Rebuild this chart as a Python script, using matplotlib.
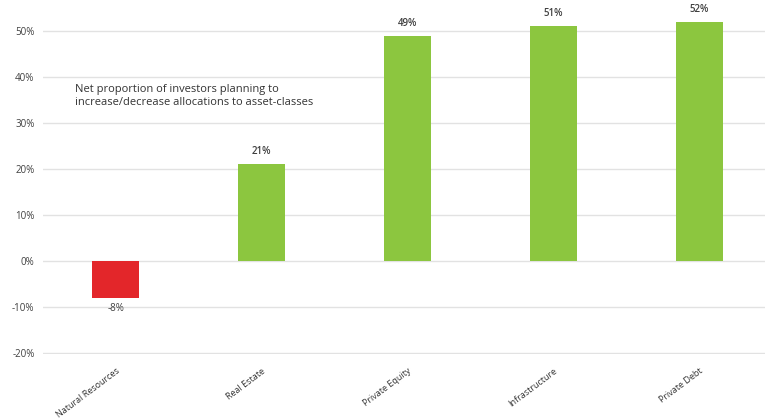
import matplotlib
matplotlib.use("Agg")
import matplotlib.pyplot as plt
from matplotlib.ticker import FuncFormatter

categories = ["Natural Resources", "Real Estate", "Private Equity", "Infrastructure", "Private Debt"]
values = [-8, 21, 49, 51, 52]
y_ticks = [-20, -10, 0, 10, 20, 30, 40, 50]

green = "#8cc63f"
red = "#e3262a"
grey = "#404040"

plt.rcParams["font.family"] = ["Open Sans", "DejaVu Sans"]

fig = plt.figure(figsize=(7.65, 4.19), dpi=100)
ax = fig.add_axes([0.056, 0.155, 0.944, 0.815])

x = list(range(len(categories)))
colors = [red if v < 0 else green for v in values]
ax.bar(x, values, width=0.32, color=colors, zorder=2)

for xi, v in zip(x, values):
    if v < 0:
        ax.text(xi, v - 1.2, f"{v}%", ha="center", va="top", fontsize=7, color=grey)
    else:
        ax.text(xi, v + 1.5, f"{v}%", ha="center", va="bottom", fontsize=7,
                color=grey, fontweight="semibold")

ax.set_ylim(-20.3, 54)
ax.set_xlim(-0.5, 4.45)
ax.set_yticks(y_ticks)
ax.yaxis.set_major_formatter(FuncFormatter(lambda v, p: f"{int(v)}%"))
ax.grid(axis="y", color="#e2e2e2", linewidth=1, zorder=0)
ax.set_axisbelow(True)
for s in ax.spines.values():
    s.set_visible(False)
ax.tick_params(axis="y", length=0, labelsize=7, colors=grey, pad=6)
ax.tick_params(axis="x", length=0, labelsize=6.5, colors="#333333", pad=9)
ax.set_xticks(x)
ax.set_xticklabels(categories, rotation=37, ha="right", rotation_mode="anchor")

ax.text(-0.28, 38.5, "Net proportion of investors planning to\nincrease/decrease allocations to asset-classes",
        ha="left", va="top", fontsize=8, color="#333333", linespacing=1.3)

fig.savefig("out.png", dpi=100)
